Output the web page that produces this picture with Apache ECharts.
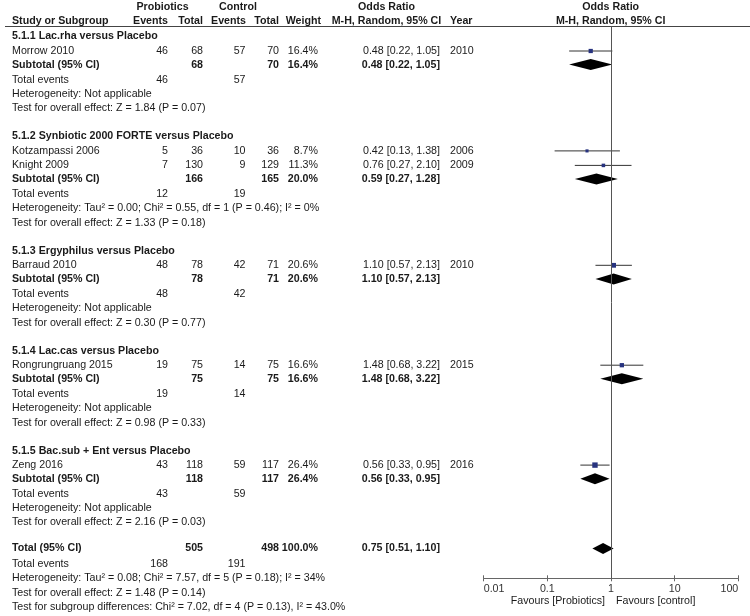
<!DOCTYPE html>
<html><head><meta charset="utf-8">
<script src="https://cdn.jsdelivr.net/npm/echarts@6/dist/echarts.min.js"></script>
<style>html,body{margin:0;padding:0;background:#fff}#c{width:750px;height:616px}</style>
</head><body><div id="c"></div>
<script>
// ---------------- DATA ----------------
const groupTitles = ['5.1.1 Lac.rha versus Placebo', '5.1.2 Synbiotic 2000 FORTE versus Placebo', '5.1.3 Ergyphilus versus Placebo', '5.1.4 Lac.cas versus Placebo', '5.1.5 Bac.sub + Ent versus Placebo'];
const studyNames = ['Morrow 2010', 'Kotzampassi 2006', 'Knight 2009', 'Barraud 2010', 'Rongrungruang 2015', 'Zeng 2016'];
const studyGroup = [0, 1, 1, 2, 3, 4];
const probEvents = [46, 5, 7, 48, 19, 43];
const probTotal = [68, 36, 130, 78, 75, 118];
const ctrlEvents = [57, 10, 9, 42, 14, 59];
const ctrlTotal = [70, 36, 129, 71, 75, 117];
const studyWeight = [16.4, 8.7, 11.3, 20.6, 16.6, 26.4];
const studyOR = [0.48, 0.42, 0.76, 1.10, 1.48, 0.56];
const studyLow = [0.22, 0.13, 0.27, 0.57, 0.68, 0.33];
const studyHigh = [1.05, 1.38, 2.10, 2.13, 3.22, 0.95];
const studyYear = [2010, 2006, 2009, 2010, 2015, 2016];

const subProbTotal = [68, 166, 78, 75, 118];
const subCtrlTotal = [70, 165, 71, 75, 117];
const subWeight = [16.4, 20.0, 20.6, 16.6, 26.4];
const subOR = [0.48, 0.59, 1.10, 1.48, 0.56];
const subLow = [0.22, 0.27, 0.57, 0.68, 0.33];
const subHigh = [1.05, 1.28, 2.13, 3.22, 0.95];
const subProbEvents = [46, 12, 48, 19, 43];
const subCtrlEvents = [57, 19, 42, 14, 59];
const subHetero = ['Not applicable', 'Tau² = 0.00; Chi² = 0.55, df = 1 (P = 0.46); I² = 0%', 'Not applicable', 'Not applicable', 'Not applicable'];
const subOverall = ['Z = 1.84 (P = 0.07)', 'Z = 1.33 (P = 0.18)', 'Z = 0.30 (P = 0.77)', 'Z = 0.98 (P = 0.33)', 'Z = 2.16 (P = 0.03)'];

const totalProbTotal = 505, totalCtrlTotal = 498, totalWeight = 100.0;
const totalOR = 0.75, totalLow = 0.51, totalHigh = 1.10;
const totalProbEvents = 168, totalCtrlEvents = 191;
const totalHetero = 'Tau² = 0.08; Chi² = 7.57, df = 5 (P = 0.18); I² = 34%';
const totalOverall = 'Z = 1.48 (P = 0.14)';
const subgroupDiff = 'Chi² = 7.02, df = 4 (P = 0.13), I² = 43.0%';

const xTicks = [0.01, 0.1, 1, 10, 100];
const xTickLabels = ['0.01', '0.1', '1', '10', '100'];
const favLeft = 'Favours [Probiotics]';
const favRight = 'Favours [control]';

// ---------------- LAYOUT ----------------
const W = 750, H = 616;
const FONT = '"Liberation Sans", Arial, sans-serif';
const FS = 10.67;
const COL = { name: 12, pe: 168, pt: 203, ce: 245.5, ct: 279, w: 318, wHead: 321, or: 440, year: 450, orHead: 386.5 };
const PLOT = { left: 483.7, right: 738.3, top: 26.5, axisY: 578.3, center: 610.7 };
const GAP = { study: 14.5, sub: 13.6, te: 15, het: 14.5, test: 14.3, group: 28, total: 26, tot2: 15.5, tot3: 14.4 };

const texts = [];
function add(x, y, text, align, bold) { texts.push({ x, y, text: String(text), align: align || 'left', bold: !!bold }); }
const studyRows = [];   // [or, y, low, high, weight]
const diamondRows = []; // [or, y, low, high]

// headers
add(162.5, 7, 'Probiotics', 'center', true);
add(238, 7, 'Control', 'center', true);
add(COL.orHead, 7, 'Odds Ratio', 'center', true);
add(PLOT.center, 7, 'Odds Ratio', 'center', true);
add(COL.name, 21, 'Study or Subgroup', 'left', true);
add(COL.pe, 21, 'Events', 'right', true);
add(COL.pt, 21, 'Total', 'right', true);
add(COL.ce + 0.5, 21, 'Events', 'right', true);
add(COL.ct, 21, 'Total', 'right', true);
add(COL.wHead, 21, 'Weight', 'right', true);
add(COL.orHead, 21, 'M-H, Random, 95% CI', 'center', true);
add(COL.year, 21, 'Year', 'left', true);
add(PLOT.center, 21, 'M-H, Random, 95% CI', 'center', true);

const orTxt = (o, l, h) => o.toFixed(2) + ' [' + l.toFixed(2) + ', ' + h.toFixed(2) + ']';
let y = 36.5;
for (let g = 0; g < groupTitles.length; g++) {
  add(COL.name, y, groupTitles[g], 'left', true);
  for (let i = 0; i < studyNames.length; i++) {
    if (studyGroup[i] !== g) continue;
    y += GAP.study;
    add(COL.name, y, studyNames[i]);
    add(COL.pe, y, probEvents[i], 'right');
    add(COL.pt, y, probTotal[i], 'right');
    add(COL.ce, y, ctrlEvents[i], 'right');
    add(COL.ct, y, ctrlTotal[i], 'right');
    add(COL.w, y, studyWeight[i].toFixed(1) + '%', 'right');
    add(COL.or, y, orTxt(studyOR[i], studyLow[i], studyHigh[i]), 'right');
    add(COL.year, y, studyYear[i]);
    studyRows.push([studyOR[i], y, studyLow[i], studyHigh[i], studyWeight[i]]);
  }
  y += GAP.sub;
  add(COL.name, y, 'Subtotal (95% CI)', 'left', true);
  add(COL.pt, y, subProbTotal[g], 'right', true);
  add(COL.ct, y, subCtrlTotal[g], 'right', true);
  add(COL.w, y, subWeight[g].toFixed(1) + '%', 'right', true);
  add(COL.or, y, orTxt(subOR[g], subLow[g], subHigh[g]), 'right', true);
  diamondRows.push([subOR[g], y, subLow[g], subHigh[g]]);
  y += GAP.te;
  add(COL.name, y, 'Total events');
  add(COL.pe, y, subProbEvents[g], 'right');
  add(COL.ce, y, subCtrlEvents[g], 'right');
  y += GAP.het;
  add(COL.name, y, 'Heterogeneity: ' + subHetero[g]);
  y += GAP.test;
  add(COL.name, y, 'Test for overall effect: ' + subOverall[g]);
  if (g < groupTitles.length - 1) y += GAP.group;
}
y += GAP.total;
add(COL.name, y, 'Total (95% CI)', 'left', true);
add(COL.pt, y, totalProbTotal, 'right', true);
add(COL.ct, y, totalCtrlTotal, 'right', true);
add(COL.w, y, totalWeight.toFixed(1) + '%', 'right', true);
add(COL.or, y, orTxt(totalOR, totalLow, totalHigh), 'right', true);
diamondRows.push([totalOR, y, totalLow, totalHigh]);
y += GAP.tot2;
add(COL.name, y, 'Total events');
add(COL.pe, y, totalProbEvents, 'right');
add(COL.ce, y, totalCtrlEvents, 'right');
y += GAP.tot3;
add(COL.name, y, 'Heterogeneity: ' + totalHetero);
y += GAP.tot3;
add(COL.name, y, 'Test for overall effect: ' + totalOverall);
y += GAP.tot3;
add(COL.name, y, 'Test for subgroup differences: ' + subgroupDiff);

add(605, 601, favLeft, 'right');
add(616, 601, favRight, 'left');

const TXT_COLOR = '#1a1a1a';

const chart = echarts.init(document.getElementById('c'), null, { renderer: 'canvas' });
const tickFmt = v => {
  for (let i = 0; i < xTicks.length; i++) if (Math.abs(Math.log10(xTicks[i]) - Math.log10(v)) < 1e-6) return xTickLabels[i];
  return '';
};
chart.setOption({
  animation: false,
  backgroundColor: '#fff',
  grid: [
    { left: 0, top: 0, width: W, height: H },
    { left: PLOT.left, top: PLOT.top, width: PLOT.right - PLOT.left, height: PLOT.axisY - PLOT.top }
  ],
  xAxis: [
    { type: 'value', gridIndex: 0, min: 0, max: W, show: false },
    { type: 'log', gridIndex: 1, logBase: 10, min: 0.01, max: 100, position: 'bottom',
      axisLine: { show: true, onZero: false, lineStyle: { color: '#666', width: 1 } },
      axisTick: { show: true, inside: false, length: 3, lineStyle: { color: '#666' } },
      axisLabel: { show: true, margin: 5, color: '#333', fontFamily: FONT, fontSize: FS, formatter: tickFmt,
        alignMinLabel: 'left', alignMaxLabel: 'right' },
      splitLine: { show: false }, minorTick: { show: false } },
    { type: 'log', gridIndex: 1, logBase: 10, min: 0.01, max: 100, position: 'bottom', offset: 0,
      axisLine: { show: false },
      axisTick: { show: true, inside: true, length: 3, lineStyle: { color: '#666' } },
      axisLabel: { show: false }, splitLine: { show: false } }
  ],
  yAxis: [
    { type: 'value', gridIndex: 0, min: 0, max: H, inverse: true, show: false },
    { type: 'value', gridIndex: 1, min: PLOT.top, max: PLOT.axisY, inverse: true, show: false }
  ],
  series: [
    { // header rule
      type: 'custom', xAxisIndex: 0, yAxisIndex: 0, silent: true,
      data: [[5, PLOT.top, W]],
      renderItem: (params, api) => {
        const a = api.coord([api.value(0), api.value(1)]);
        const b = api.coord([api.value(2), api.value(1)]);
        return { type: 'line', shape: { x1: a[0], y1: a[1], x2: b[0], y2: b[1] }, style: { stroke: '#444', lineWidth: 1 } };
      }
    },
    { // table text
      type: 'custom', xAxisIndex: 0, yAxisIndex: 0, silent: true,
      data: texts.map((t, i) => [t.x, t.y, i]),
      renderItem: (params, api) => {
        const t = texts[params.dataIndex];
        const p = api.coord([api.value(0), api.value(1)]);
        return { type: 'text', x: p[0], y: p[1],
          style: { text: t.text, fill: TXT_COLOR, font: (t.bold ? 'bold ' : '') + FS + 'px ' + FONT,
            align: t.align, textAlign: t.align, verticalAlign: 'middle', textVerticalAlign: 'middle' } };
      }
    },
    { // study CIs and squares
      type: 'custom', xAxisIndex: 1, yAxisIndex: 1, silent: true, clip: false,
      data: studyRows,
      renderItem: (params, api) => {
        const yv = api.value(1);
        const p = api.coord([api.value(0), yv]);
        const l = api.coord([api.value(2), yv]);
        const h = api.coord([api.value(3), yv]);
        const s = Math.max(3, Math.sqrt(api.value(4)) * 1.05);
        return { type: 'group', children: [
          { type: 'line', shape: { x1: l[0], y1: p[1], x2: h[0], y2: p[1] }, style: { stroke: '#333', lineWidth: 1 } },
          { type: 'rect', shape: { x: p[0] - s / 2, y: p[1] - s / 2, width: s, height: s }, style: { fill: '#27337f' } }
        ] };
      },
      markLine: { silent: true, symbol: 'none', label: { show: false },
        lineStyle: { color: '#555', width: 1, type: 'solid' }, data: [{ xAxis: 1 }] }
    },
    { // diamonds
      type: 'custom', xAxisIndex: 1, yAxisIndex: 1, silent: true, clip: false,
      data: diamondRows,
      renderItem: (params, api) => {
        const yv = api.value(1);
        const p = api.coord([api.value(0), yv]);
        const l = api.coord([api.value(2), yv]);
        const h = api.coord([api.value(3), yv]);
        const hh = 5.5;
        return { type: 'polygon', shape: { points: [[l[0], p[1]], [p[0], p[1] - hh], [h[0], p[1]], [p[0], p[1] + hh]] },
          style: { fill: '#000' } };
      }
    }
  ]
});
</script>
</body></html>
